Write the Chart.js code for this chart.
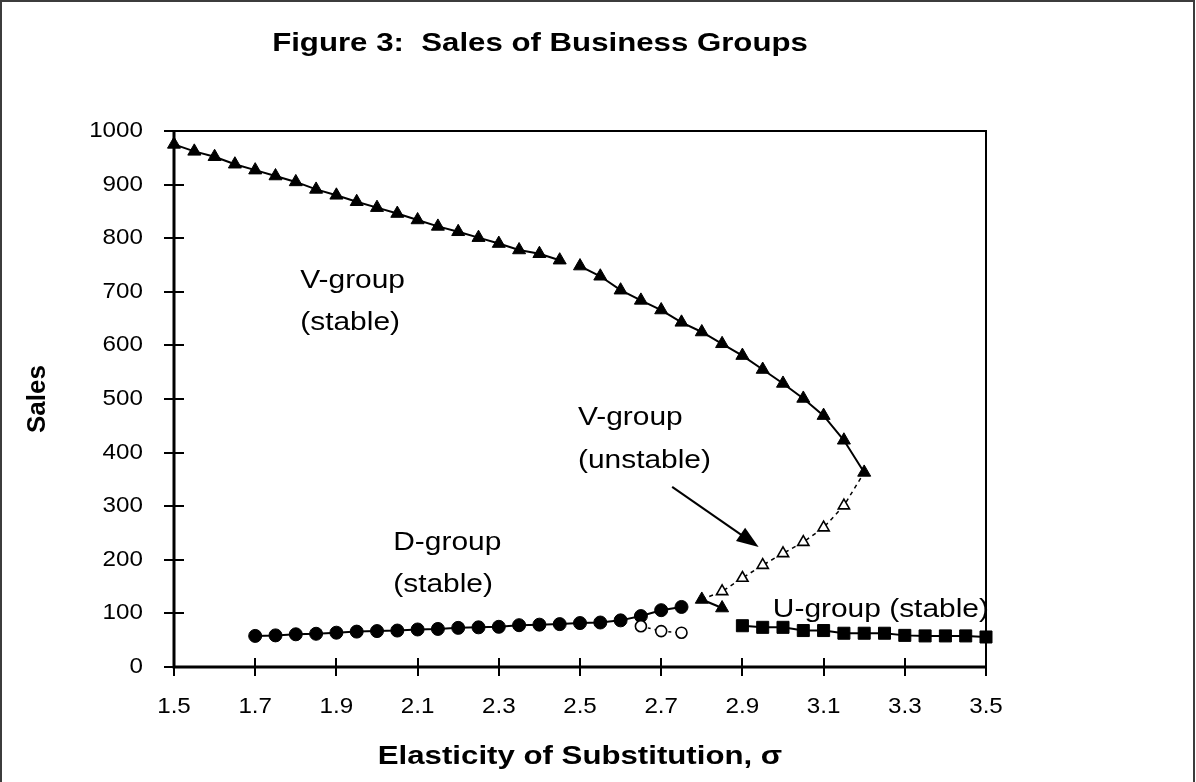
<!DOCTYPE html>
<html>
<head>
<meta charset="utf-8">
<script src="https://cdn.jsdelivr.net/npm/chart.js@4.4.0/dist/chart.umd.min.js"></script>
<style>
  body { margin: 0; background: #fff; }
  .chartBox { width: 1196px; height: 782px; }
</style>
</head>
<body>
<div class="chartBox"><canvas id="myChart"></canvas></div>
<script>
// values (sigma on x, sales on y)
const xTicks = [1.5, 1.7, 1.9, 2.1, 2.3, 2.5, 2.7, 2.9, 3.1, 3.3, 3.5];
const yTicks = [0, 100, 200, 300, 400, 500, 600, 700, 800, 900, 1000];

// V-group stable, upper branch (line breaks between 2.45 and 2.5)
const vStableX1 = [1.5, 1.55, 1.6, 1.65, 1.7, 1.75, 1.8, 1.85, 1.9, 1.95, 2.0, 2.05, 2.1, 2.15, 2.2, 2.25, 2.3, 2.35, 2.4, 2.45];
const vStableY1 = [975, 962, 952, 938, 927, 916, 905, 891, 880, 868, 857, 846, 834, 822, 812, 801, 790, 778, 771, 759];
const vStableX2 = [2.5, 2.55, 2.6, 2.65, 2.7, 2.75, 2.8, 2.85, 2.9, 2.95, 3.0, 3.05, 3.1, 3.15, 3.2];
const vStableY2 = [748, 729, 703, 684, 666, 643, 625, 603, 581, 555, 529, 501, 469, 423, 363];
// short stable piece near the bottom
const vLowX = [2.8, 2.85];
const vLowY = [126, 110];
// V-group unstable (open triangles, dotted)
const vUnstableX = [2.8, 2.85, 2.9, 2.95, 3.0, 3.05, 3.1, 3.15, 3.2];
const vUnstableY = [126, 141, 166, 190, 212, 233, 260, 301, 363];

// D-group
const dStableX = [1.7, 1.75, 1.8, 1.85, 1.9, 1.95, 2.0, 2.05, 2.1, 2.15, 2.2, 2.25, 2.3, 2.35, 2.4, 2.45, 2.5, 2.55, 2.6, 2.65, 2.7, 2.75];
const dStableY = [58, 59, 61, 62, 64, 66, 67, 68, 70, 71, 73, 74, 75, 78, 79, 80, 82, 83, 87, 95, 106, 112];
const dUnstableX = [2.65, 2.7, 2.75];
const dUnstableY = [76, 67, 64];

// U-group
const uStableX = [2.9, 2.95, 3.0, 3.05, 3.1, 3.15, 3.2, 3.25, 3.3, 3.35, 3.4, 3.45, 3.5];
const uStableY = [77, 74, 74, 68, 68, 63, 63, 63, 59, 58, 58, 58, 56];

// text placed on the plot, in data units
const notes = [
  { text: 'V-group', x: 1.811, y: 720 },
  { text: '(stable)', x: 1.811, y: 642 },
  { text: 'V-group', x: 2.495, y: 465 },
  { text: '(unstable)', x: 2.495, y: 384 },
  { text: 'D-group', x: 2.04, y: 231 },
  { text: '(stable)', x: 2.04, y: 153 },
  { text: 'U-group (stable)', x: 2.975, y: 106 }
];
const arrow = { x1: 2.727, y1: 336, x2: 2.94, y2: 224 };

function pts(xs, ys) {
  return xs.map(function (x, i) { return { x: x, y: ys[i] }; });
}

const FONT = '"Liberation Sans", Arial, sans-serif';

// canvas text is a bit narrow next to the original, so widen it
function wideText(ctx, str, x, y, size, bold, align, sx) {
  ctx.save();
  ctx.font = (bold ? 'bold ' : '') + size + 'px ' + FONT;
  ctx.textBaseline = 'middle';
  ctx.textAlign = 'left';
  var w = ctx.measureText(str).width * sx;
  var left = x;
  if (align === 'center') left = x - w / 2;
  if (align === 'right') left = x - w;
  ctx.translate(left, y);
  ctx.scale(sx, 1);
  ctx.fillStyle = '#000';
  ctx.fillText(str, 0, 0);
  ctx.restore();
}

const figurePlugin = {
  id: 'figure',
  beforeDraw(chart) {
    const ctx = chart.ctx;
    ctx.save();
    ctx.fillStyle = '#fff';
    ctx.fillRect(0, 0, chart.width, chart.height);
    ctx.strokeStyle = '#3c3c3c';
    ctx.lineWidth = 2;
    ctx.beginPath();
    ctx.moveTo(1, chart.height);
    ctx.lineTo(1, 1);
    ctx.lineTo(chart.width - 2, 1);
    ctx.lineTo(chart.width - 2, chart.height);
    ctx.stroke();
    ctx.restore();
  },
  beforeDatasetsDraw(chart) {
    const ctx = chart.ctx, a = chart.chartArea;
    const xs = chart.scales.x, ys = chart.scales.y;
    ctx.save();
    ctx.strokeStyle = '#000';
    ctx.lineWidth = 2;
    ctx.strokeRect(a.left, a.top, a.right - a.left, a.bottom - a.top);
    ctx.lineWidth = 3;
    ctx.beginPath();
    ctx.moveTo(a.left, a.top);
    ctx.lineTo(a.left, a.bottom);
    ctx.lineTo(a.right, a.bottom);
    ctx.stroke();
    ctx.lineWidth = 2;
    ctx.beginPath();
    ys.ticks.forEach(function (t) {
      const py = Math.round(ys.getPixelForValue(t.value));
      ctx.moveTo(a.left - 10, py);
      ctx.lineTo(a.left + 10, py);
    });
    xs.ticks.forEach(function (t) {
      const px = Math.round(xs.getPixelForValue(t.value));
      ctx.moveTo(px, a.bottom - 9);
      ctx.lineTo(px, a.bottom + 9);
    });
    ctx.stroke();
    ctx.restore();
  },
  afterDraw(chart) {
    const ctx = chart.ctx, a = chart.chartArea;
    const xs = chart.scales.x, ys = chart.scales.y;
    ys.ticks.forEach(function (t) {
      wideText(ctx, String(t.value), a.left - 31, ys.getPixelForValue(t.value), 22, false, 'right', 1.1);
    });
    xs.ticks.forEach(function (t) {
      wideText(ctx, t.value.toFixed(1), xs.getPixelForValue(t.value), a.bottom + 40, 22, false, 'center', 1.1);
    });
    notes.forEach(function (n) {
      wideText(ctx, n.text, xs.getPixelForValue(n.x), ys.getPixelForValue(n.y), 26, false, 'left', 1.15);
    });
    wideText(ctx, 'Figure 3:  Sales of Business Groups', 540, 44, 26, true, 'center', 1.2);
    wideText(ctx, 'Elasticity of Substitution, \u03c3', (a.left + a.right) / 2, 757, 26, true, 'center', 1.2);
    ctx.save();
    ctx.translate(38, (a.top + a.bottom) / 2);
    ctx.rotate(-Math.PI / 2);
    wideText(ctx, 'Sales', 0, 0, 26, true, 'center', 1.0);
    ctx.restore();

    // arrow pointing at the unstable branch
    const x1 = xs.getPixelForValue(arrow.x1), y1 = ys.getPixelForValue(arrow.y1);
    const x2 = xs.getPixelForValue(arrow.x2), y2 = ys.getPixelForValue(arrow.y2);
    const ang = Math.atan2(y2 - y1, x2 - x1);
    ctx.save();
    ctx.strokeStyle = '#000';
    ctx.fillStyle = '#000';
    ctx.lineWidth = 2;
    ctx.beginPath();
    ctx.moveTo(x1, y1);
    ctx.lineTo(x2 - 18 * Math.cos(ang), y2 - 18 * Math.sin(ang));
    ctx.stroke();
    ctx.translate(x2, y2);
    ctx.rotate(ang);
    ctx.beginPath();
    ctx.moveTo(0, 0);
    ctx.lineTo(-22, -8);
    ctx.lineTo(-22, 8);
    ctx.closePath();
    ctx.fill();
    ctx.restore();
  }
};

function markerSet(data, style, filled, radius, dash) {
  return {
    data: data,
    showLine: true,
    borderColor: '#000',
    backgroundColor: filled ? '#000' : '#fff',
    borderWidth: dash ? 1.5 : 2,
    borderDash: dash || [],
    pointStyle: style,
    pointRadius: radius,
    pointBorderWidth: filled ? 1 : 1.6,
    pointBorderColor: '#000',
    pointBackgroundColor: filled ? '#000' : '#fff',
    tension: 0,
    clip: false
  };
}

const unstableRadius = vUnstableX.map(function (x, i) {
  return (i === 0 || i === vUnstableX.length - 1) ? 0 : 6.5;
});
const unstableSet = markerSet(pts(vUnstableX, vUnstableY), 'triangle', false, 6.5, [4, 4]);
unstableSet.pointRadius = unstableRadius;

var ctx = document.getElementById('myChart').getContext('2d');
var myChart = new Chart(ctx, {
  type: 'scatter',
  data: {
    datasets: [
      unstableSet,
      markerSet(pts(dUnstableX, dUnstableY), 'circle', false, 5.5, [3, 4]),
      markerSet(pts(vStableX1, vStableY1), 'triangle', true, 7.5),
      markerSet(pts(vStableX2, vStableY2), 'triangle', true, 7.5),
      markerSet(pts(vLowX, vLowY), 'triangle', true, 7.5),
      markerSet(pts(dStableX, dStableY), 'circle', true, 6.5),
      markerSet(pts(uStableX, uStableY), 'rect', true, 8.5)
    ]
  },
  options: {
    responsive: true,
    maintainAspectRatio: false,
    animation: false,
    layout: { padding: { left: 0, top: 131, right: 210, bottom: 0 } },
    plugins: { legend: { display: false }, tooltip: { enabled: false } },
    scales: {
      x: {
        type: 'linear', min: 1.5, max: 3.5,
        afterBuildTicks: function (s) { s.ticks = xTicks.map(function (v) { return { value: v }; }); },
        afterFit: function (s) { s.height = 115; },
        ticks: { display: false },
        grid: { display: false },
        border: { display: false }
      },
      y: {
        type: 'linear', min: 0, max: 1000,
        afterBuildTicks: function (s) { s.ticks = yTicks.map(function (v) { return { value: v }; }); },
        afterFit: function (s) { s.width = 174; },
        ticks: { display: false },
        grid: { display: false },
        border: { display: false }
      }
    }
  },
  plugins: [figurePlugin]
});
</script>
</body>
</html>
